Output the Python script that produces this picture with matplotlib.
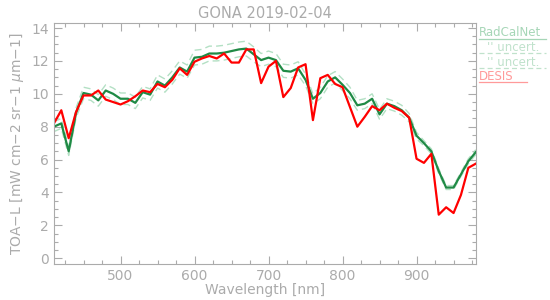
import numpy as np
import matplotlib.pyplot as plt
from matplotlib.lines import Line2D
from matplotlib.ticker import MultipleLocator

# Wavelength grid [nm] and TOA radiances
wavelength = [410, 420, 430, 440, 450, 460, 470, 480, 490, 500,
              510, 520, 530, 540, 550, 560, 570, 580, 590, 600,
              610, 620, 630, 640, 650, 660, 670, 680, 690, 700,
              710, 720, 730, 740, 750, 760, 770, 780, 790, 800,
              810, 820, 830, 840, 850, 860, 870, 880, 890, 900,
              910, 920, 930, 940, 950, 960, 970, 980]

radcalnet = [8.0, 8.2, 6.5, 8.85, 10.05, 9.95, 9.6, 10.2, 10.0, 9.7,
             9.7, 9.45, 10.1, 9.95, 10.75, 10.5, 11.0, 11.6, 11.35, 12.2,
             12.25, 12.45, 12.45, 12.5, 12.6, 12.7, 12.75, 12.4, 12.05, 12.2,
             12.05, 11.4, 11.35, 11.55, 10.85, 9.7, 10.05, 10.75, 11.0, 10.55,
             10.05, 9.3, 9.4, 9.7, 8.75, 9.4, 9.25, 9.0, 8.55, 7.45,
             7.0, 6.5, 5.3, 4.3, 4.3, 5.1, 5.9, 6.45]

radcalnet_unc = [0.3, 0.3, 0.25, 0.3, 0.35, 0.35, 0.35, 0.35, 0.35, 0.35,
                 0.35, 0.35, 0.35, 0.35, 0.4, 0.4, 0.4, 0.4, 0.4, 0.45,
                 0.45, 0.45, 0.45, 0.45, 0.45, 0.45, 0.45, 0.45, 0.4, 0.4,
                 0.4, 0.4, 0.4, 0.4, 0.35, 0.3, 0.35, 0.35, 0.35, 0.35,
                 0.35, 0.3, 0.3, 0.3, 0.3, 0.3, 0.3, 0.3, 0.25, 0.2,
                 0.15, 0.15, 0.15, 0.12, 0.12, 0.12, 0.15, 0.15]

desis = [8.2, 9.0, 7.3, 8.9, 9.9, 9.9, 10.2, 9.65, 9.5, 9.35,
         9.55, 9.85, 10.2, 10.1, 10.6, 10.4, 10.85, 11.55, 11.15, 11.95,
         12.15, 12.3, 12.15, 12.45, 11.9, 11.9, 12.7, 12.7, 10.65, 11.65,
         12.0, 9.8, 10.35, 11.6, 11.8, 8.4, 10.95, 11.15, 10.6, 10.4,
         9.2, 8.0, 8.6, 9.25, 9.0, 9.4, 9.15, 8.95, 8.55, 6.05,
         5.8, 6.35, 2.65, 3.1, 2.75, 3.85, 5.5, 5.75]

grey = '#ababab'
green = '#1f8a45'
pale_green = '#b3e0c4'

rcn = np.array(radcalnet)
unc = np.array(radcalnet_unc)

fig = plt.figure(figsize=(5.5, 3.0), dpi=100)
ax = fig.add_axes([0.098, 0.12, 0.767, 0.803])

ax.plot(wavelength, rcn + unc, color=pale_green, lw=1.0, dashes=(5, 3))
ax.plot(wavelength, rcn - unc, color=pale_green, lw=1.0, dashes=(5, 3))
ax.plot(wavelength, rcn, color=green, lw=1.6)
ax.plot(wavelength, desis, color='red', lw=1.6)

ax.set_xlim(410, 980)
ax.set_ylim(-0.35, 14.3)
ax.xaxis.set_major_locator(MultipleLocator(100))
ax.xaxis.set_minor_locator(MultipleLocator(25))
ax.yaxis.set_major_locator(MultipleLocator(2))
ax.yaxis.set_minor_locator(MultipleLocator(0.5))
ax.tick_params(which='both', direction='in', top=True, right=True,
               color=grey, labelcolor=grey, labelsize=10, width=0.8)
ax.tick_params(which='major', length=6)
ax.tick_params(which='minor', length=3)
for s in ax.spines.values():
    s.set_color(grey)

ax.set_title('GONA 2019-02-04', color=grey, fontsize=10.5, pad=4)
ax.set_xlabel('Wavelength [nm]', color=grey, fontsize=10, labelpad=0)
ax.set_ylabel(r'TOA$-$L [mW cm$-$2 sr$-$1 $\mu$m$-$1]', color=grey, fontsize=10, labelpad=4)

# IDL-style legend: text with its line sample drawn underneath
legend_rows = [('RadCalNet', '#a6d6b7', 'solid', 479),
               ("'' uncert.", '#c0e2cc', 'dashed', 487),
               ("'' uncert.", '#c0e2cc', 'dashed', 487),
               ('DESIS', '#ff9a9a', 'solid', 479)]
for i, (label, col, ls, xpix) in enumerate(legend_rows):
    ytxt = 1 - (33 + 14.5 * i) / 300
    yline = 1 - (38.5 + 14.5 * i) / 300
    fig.text(xpix / 550, ytxt, label, color=col, fontsize=8.5, va='center', ha='left')
    xend = 527 if label == 'DESIS' else 546
    fig.add_artist(Line2D([479 / 550, xend / 550], [yline, yline],
                          transform=fig.transFigure, color=col, lw=0.9,
                          linestyle='solid' if ls == 'solid' else (0, (4, 2.5))))

fig.savefig('out.png', dpi=100)
